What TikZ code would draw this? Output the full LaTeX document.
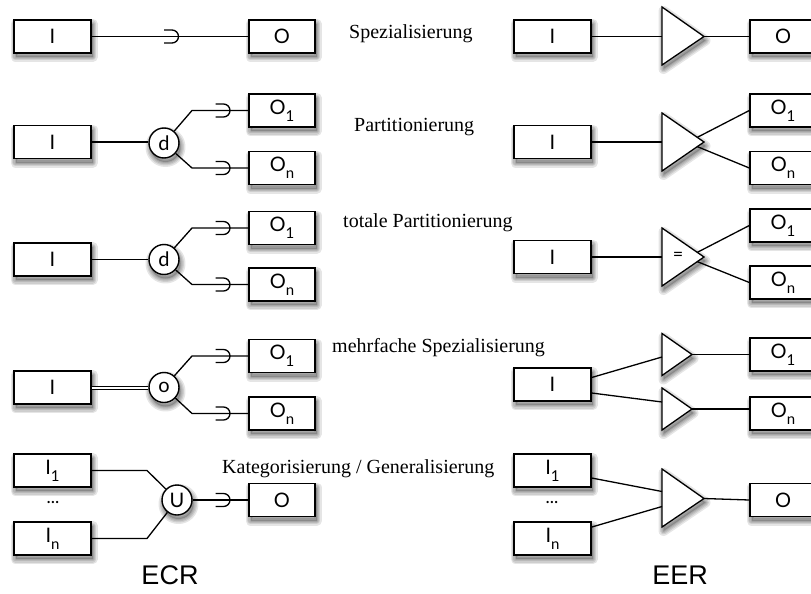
\documentclass[tikz,border=0pt]{standalone}
\usepackage{fontspec}
\setmainfont{Liberation Serif}
\newfontfamily\boxfont{Lato}
\newfontfamily\capfont{Liberation Sans}
\usetikzlibrary{calc}
\newcommand\lowidx[1]{\raisebox{-7pt}{\fontsize{15}{15}\selectfont #1}}
\begin{document}
\begin{tikzpicture}[x=1pt,y=-1pt,
  % soft drop shadow built from stacked translucent layers
  shadlayer/.style={preaction={draw=black,line join=round,line width=#1,opacity=0.1,
    transform canvas={xshift=1.5pt,yshift=-4pt}}},
  shad/.style={preaction={fill=black,opacity=0.18,transform canvas={xshift=1.5pt,yshift=-4pt}},
    shadlayer=2pt,shadlayer=4.5pt,shadlayer=7pt,shadlayer=10pt},
  ent/.style={draw,line width=1.4pt,fill=white,minimum width=77pt,minimum height=33pt,
    inner sep=0pt,font=\boxfont\fontsize{20}{20}\selectfont,shad},
  sub/.style={ent,minimum width=66pt},
  gen/.style={circle,draw,line width=1.4pt,fill=white,minimum size=30pt,inner sep=0pt,
    font=\boxfont\fontsize{20}{20}\selectfont,shad},
  tri/.style={draw,line width=1.3pt,fill=white,line join=miter,shad},
  con/.style={line width=1.3pt},
  lbl/.style={font=\fontsize{20}{20}\selectfont,anchor=base west,inner sep=0pt},
  dots/.style={font=\boxfont\fontsize{18}{18}\selectfont},
  heading/.style={font=\capfont\fontsize{27}{27}\selectfont,anchor=base,inner sep=0pt},
  pics/supset/.style={code={\draw[con] (-8,-6.5) -- (0,-6.5) arc (-90:90:6.5) -- (-8,6.5);}}
]
\useasboundingbox (0,0) rectangle (811,594);

% ---------------- ECR (left) ----------------
% Spezialisierung
\node[ent] (aI) at (52.5,36.5) {I};
\node[sub] (aO) at (282,36.5) {O};
\draw[con] (aI) -- (aO);
\pic at (172,36.5) {supset};

% Partitionierung
\node[ent] (bI) at (52.5,142) {I};
\node[gen] (bd) at (164,143) {d};
\node[sub] (bO1) at (282,110.5) {O\lowidx{1}};
\node[sub] (bOn) at (282,168) {O\lowidx{n}};
\coordinate (bk1) at (192,110.5);
\coordinate (bk2) at (192,168);
\draw[con] (bI) -- (bI.east -| bd.west);
\draw[con] (bd) -- (bk1) -- (bO1.west);
\draw[con] (bd) -- (bk2) -- (bOn.west);
\pic at (223.5,110.5) {supset};
\pic at (223.5,168) {supset};

% totale Partitionierung
\node[ent] (cI) at (52.5,259.5) {I};
\node[gen] (cd) at (164,259.5) {d};
\node[sub] (cO1) at (282,228) {O\lowidx{1}};
\node[sub] (cOn) at (282,284.5) {O\lowidx{n}};
\coordinate (ck1) at (192,228);
\coordinate (ck2) at (192,284.5);
\draw[con] (cI) -- (cd);
\draw[con] (cd) -- (ck1) -- (cO1.west);
\draw[con] (cd) -- (ck2) -- (cOn.west);
\pic at (223.5,228) {supset};
\pic at (223.5,284.5) {supset};

% mehrfache Spezialisierung
\node[ent] (dI) at (52.5,387.5) {I};
\node[gen] (do) at (164,387.5) {o};
\node[sub] (dO1) at (282,356) {O\lowidx{1}};
\node[sub] (dOn) at (282,413.5) {O\lowidx{n}};
\coordinate (dk1) at (192,356);
\coordinate (dk2) at (192,413.5);
\draw[line width=1pt,double,double distance=2pt] (dI) -- (do);
\draw[con] (do) -- (dk1) -- (dO1.west);
\draw[con] (do) -- (dk2) -- (dOn.west);
\pic at (223.5,356) {supset};
\pic at (223.5,413.5) {supset};

% Kategorisierung / Generalisierung
\node[ent] (eI1) at (52.5,470.5) {I\lowidx{1}};
\node[ent] (eIn) at (52.5,538.5) {I\lowidx{n}};
\node[dots] (edots) at (53,502) {...};
\node[gen] (eU) at (177,500) {U};
\node[sub] (eO) at (282,500) {O};
\coordinate (ek1) at (147,470.5);
\coordinate (ek2) at (147,538.5);
\draw[con] (eI1) -- (ek1) -- (eU);
\draw[con] (eIn) -- (ek2) -- (eU);
\draw[con] (eU) -- (eO);
\pic at (223.5,500) {supset};

% ---------------- labels ----------------
\node[lbl] (l1) at (349,39) {Spezialisierung};
\node[lbl] (l2) at (354,131) {Partitionierung};
\node[lbl] (l3) at (343,227) {totale Partitionierung};
\node[lbl] (l4) at (332,352) {mehrfache Spezialisierung};
\node[lbl] (l5) at (222,473) {Kategorisierung / Generalisierung};

% ---------------- EER (right) ----------------
% Spezialisierung
\node[ent] (AI) at (552.5,36.5) {I};
\node[sub] (AO) at (783,36.5) {O};
\path[tri] (662,7) -- (662,65) -- (704,36.5) -- cycle;
\coordinate (At) at (704,36.5);
\coordinate (Ab) at (662,36.5);
\draw[con] (AI) -- (Ab);
\draw[con] (At) -- (AO);

% Partitionierung
\node[ent] (BI) at (552.5,142) {I};
\node[sub] (BO1) at (783,110.5) {O\lowidx{1}};
\node[sub] (BOn) at (783,168) {O\lowidx{n}};
\path[tri] (662,113) -- (662,171) -- (704,142) -- cycle;
\coordinate (Bb) at (662,142);
\coordinate (Bu) at (697,137.5);
\coordinate (Bl) at (697,146.5);
\draw[con] (BI) -- (Bb);
\draw[con] (Bu) -- (BO1.west);
\draw[con] (Bl) -- (BOn.west);

% totale Partitionierung
\node[ent] (CI) at (552.5,257) {I};
\node[sub] (CO1) at (783,225.5) {O\lowidx{1}};
\node[sub] (COn) at (783,282.5) {O\lowidx{n}};
\path[tri] (662,228) -- (662,286) -- (704,257) -- cycle;
\node[font=\boxfont\fontsize{18}{18}\selectfont] (Ceq) at (678,256) {=};
\coordinate (Cb) at (662,257);
\coordinate (Cu) at (697,252.5);
\coordinate (Cl) at (697,261.5);
\draw[con] (CI) -- (Cb);
\draw[con] (Cu) -- (CO1.west);
\draw[con] (Cl) -- (COn.west);

% mehrfache Spezialisierung
\node[ent] (DI) at (552.5,384.5) {I};
\node[sub] (DO1) at (783,354.5) {O\lowidx{1}};
\node[sub] (DOn) at (783,413.5) {O\lowidx{n}};
\path[tri] (662,333.5) -- (662,375.5) -- (692,354.5) -- cycle;
\path[tri] (662,388) -- (662,430) -- (692,409) -- cycle;
\coordinate (D1b) at (662,357);
\coordinate (D1t) at (692,354.5);
\coordinate (D2b) at (662,402);
\coordinate (D2t) at (692,409);
\draw[con] ($(DI.east)+(0,-7)$) -- (D1b);
\draw[con] ($(DI.east)+(0,8.5)$) -- (D2b);
\draw[con] (D1t) -- (DO1.west);
\draw[con] (D2t) -- (D2t -| DOn.west);

% Kategorisierung / Generalisierung
\node[ent] (EI1) at (552.5,470.5) {I\lowidx{1}};
\node[ent] (EIn) at (552.5,538.5) {I\lowidx{n}};
\node[dots] (Edots) at (552,502) {...};
\node[sub] (EO) at (783,500) {O};
\path[tri] (662,469) -- (662,527) -- (704,498.5) -- cycle;
\coordinate (E1b) at (662,491.5);
\coordinate (E2b) at (662,506.5);
\coordinate (Et) at (704,498.5);
\draw[con] (EI1) -- (E1b);
\draw[con] (EIn) -- (E2b);
\draw[con] (Et) -- (EO.west);

% ---------------- headings ----------------
\node[heading] (hECR) at (170,584) {ECR};
\node[heading] (hEER) at (680,584) {EER};
\end{tikzpicture}
\end{document}
